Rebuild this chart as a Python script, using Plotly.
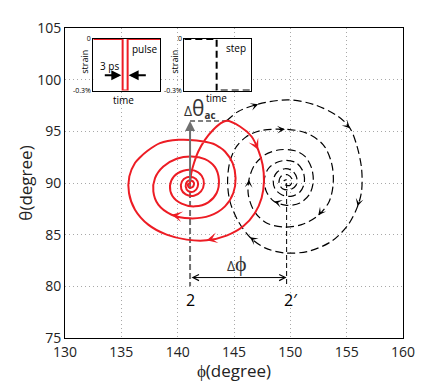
import plotly.graph_objects as go

# red trajectory (3 ps strain pulse): leaves 2, reaches the apex, spirals back into 2
red_phi = [141.09, 141.21, 141.45, 141.83, 142.42, 143.16, 143.75, 144.34,
           145.53, 146.56, 147.15, 147.54, 147.66, 147.45, 146.86, 145.82, 144.34,
           142.57, 140.80, 139.02, 137.39, 136.21, 135.68, 135.71, 136.21, 136.65,
           137.30, 138.43, 140.06, 141.68, 143.16, 143.75,
           144.20, 144.88, 145.14, 144.94, 144.20, 142.87, 141.09, 139.46, 138.28,
           137.84, 137.99, 138.73, 139.91, 141.24, 142.42,
           143.31, 143.66, 143.46, 142.72, 141.53, 140.35, 139.52, 139.32, 139.67,
           140.50, 141.45, 142.13,
           142.33, 142.07, 141.45, 140.71, 140.32, 140.38, 140.80, 141.39, 141.77,
           141.77, 141.45, 140.94, 140.71, 140.83, 141.18, 141.45, 141.33, 141.00,
           140.91, 141.12]
red_theta = [89.93, 90.96, 91.93, 93.05, 94.18, 95.15, 95.73, 96.02,
             95.47, 94.50, 93.21, 91.77, 90.16, 88.55, 87.10, 85.81, 84.91,
             84.45, 84.52, 85.00, 85.97, 87.42, 89.03, 90.64, 91.93, 92.47,
             93.10, 93.86, 94.18, 94.12, 93.80, 93.44,
             93.05, 91.93, 90.48, 89.03, 87.74, 86.84, 86.58, 86.93, 87.90,
             89.19, 90.48, 91.60, 92.35, 92.57, 92.31,
             91.54, 90.32, 89.03, 88.13, 87.74, 88.00, 88.77, 89.74, 90.64,
             91.19, 91.22, 90.70,
             89.93, 89.19, 88.77, 88.90, 89.41, 90.16, 90.54, 90.54, 90.16,
             89.61, 89.19, 89.22, 89.67, 90.12, 90.25, 90.00, 89.61, 89.57,
             89.87, 90.00]
red_arrows = [5, 10, 17, 25, 31, 39, 48]

# black dashed trajectory (step strain): from the apex, spirals into 2'
black_phi = [144.35, 145.38, 147.15, 149.82, 152.18, 154.25, 155.29, 155.88,
             156.32, 156.32, 155.97, 155.14, 153.66, 151.59, 149.52, 147.75,
             146.42, 145.38, 144.64, 144.43, 144.64, 145.23, 146.12, 147.30,
             149.52, 151.44, 152.92, 153.66, 153.81, 153.45, 152.48, 151.00,
             149.37, 147.89, 146.80, 146.27, 146.33, 146.80, 147.75, 149.08,
             150.41, 151.30, 151.89, 152.03, 151.68, 150.85, 149.67, 148.57,
             147.89, 147.69, 148.04, 148.78, 149.67,
             150.56, 151.15, 151.24, 150.85, 150.05, 149.23, 148.63, 148.49,
             148.84, 149.52,
             150.17, 150.56, 150.50, 149.97, 149.31, 148.99, 149.17, 149.76,
             150.17, 149.97, 149.52, 149.43, 149.67]
black_theta = [96.02, 96.92, 97.63, 98.05, 97.56, 96.44, 95.31, 93.70,
               91.44, 89.19, 87.74, 85.97, 84.36, 83.39, 83.23, 83.72,
               84.75, 86.29, 88.22, 90.16, 92.09, 93.54, 94.50, 95.05,
               95.21, 94.83, 93.70, 91.93, 90.00, 88.22, 86.87, 85.97,
               85.74, 86.13, 87.26, 88.87, 90.32, 91.70, 92.73, 93.22,
               93.12, 92.57, 91.44, 90.09, 88.87, 88.06, 87.84, 88.22,
               89.13, 90.32, 91.38, 91.99, 92.19,
               91.93, 91.06, 90.00, 89.13, 88.71, 88.87, 89.45, 90.32,
               91.06, 91.38,
               91.19, 90.54, 89.77, 89.35, 89.45, 90.00, 90.64, 90.80,
               90.32, 89.77, 89.84, 90.19, 90.32]
black_arrows = [2, 6, 10, 16, 24, 30, 36, 41, 47, 54]

point_2 = [141.1, 90.0]
point_2p = [149.67, 90.0]
apex = [144.35, 96.0]
base_theta = 80.0
dphi_theta = 80.85

# insets
pulse_time = [0, 4.4, 4.4, 5.15, 5.15, 10]
pulse_strain = [0, 0, -0.3, -0.3, 0, 0]
step_time = [0, 4.88, 4.88, 10]
step_strain = [0, 0, -0.3, -0.3]

RED = "#ed1c24"
FONT = "Open Sans"


def arrow_marks(xs, ys, idx, color, width, size, xref="x", yref="y"):
    anns = []
    for i in idx:
        tx = xs[i] - 0.3 * (xs[i] - xs[i - 1])
        ty = ys[i] - 0.3 * (ys[i] - ys[i - 1])
        anns.append(dict(x=xs[i], y=ys[i], ax=tx, ay=ty, xref=xref, yref=yref,
                         axref=xref, ayref=yref, text="", showarrow=True,
                         arrowhead=3, arrowsize=size, arrowwidth=width,
                         arrowcolor=color, standoff=0))
    return anns


def label(text, x, y, xref, yref, size, **kw):
    return dict(x=x, y=y, xref=xref, yref=yref, text=text, showarrow=False,
                xanchor=kw.pop("xanchor", "center"), yanchor="middle",
                font=dict(family=FONT, size=size, color=kw.pop("color", "black")), **kw)


fig = go.Figure()

# guide lines
fig.add_trace(go.Scatter(x=[point_2[0], point_2[0]], y=[point_2[1], base_theta],
                         mode="lines", line=dict(color="#707070", width=2, dash="6px,3px"),
                         hoverinfo="skip"))
fig.add_trace(go.Scatter(x=[point_2p[0], point_2p[0]], y=[point_2p[1], base_theta],
                         mode="lines", line=dict(color="black", width=1, dash="5px,3px"),
                         hoverinfo="skip"))
fig.add_trace(go.Scatter(x=[point_2[0], apex[0]], y=[apex[1], apex[1]],
                         mode="lines", line=dict(color="black", width=1, dash="5px,3px"),
                         hoverinfo="skip"))

fig.add_trace(go.Scatter(x=black_phi, y=black_theta, mode="lines",
                         line=dict(color="black", width=1.2, dash="8px,4px",
                                   shape="spline", smoothing=0.9),
                         name="step"))
fig.add_trace(go.Scatter(x=red_phi, y=red_theta, mode="lines",
                         line=dict(color=RED, width=2, shape="spline", smoothing=0.9),
                         name="pulse"))

# inset traces
fig.add_trace(go.Scatter(x=pulse_time, y=pulse_strain, mode="lines", xaxis="x2", yaxis="y2",
                         line=dict(color=RED, width=2), cliponaxis=False))
fig.add_trace(go.Scatter(x=step_time, y=step_strain, mode="lines", xaxis="x3", yaxis="y3",
                         line=dict(color="black", width=2, dash="7px,4px"), cliponaxis=False))

anns = []
anns += arrow_marks(black_phi, black_theta, black_arrows, "black", 1, 1.3)
anns += arrow_marks(red_phi, red_theta, red_arrows, RED, 2, 0.9)

# delta theta arrow and label
anns.append(dict(x=point_2[0], y=apex[1], ax=point_2[0], ay=point_2[1], xref="x", yref="y",
                 axref="x", ayref="y", text="", showarrow=True, arrowhead=2,
                 arrowsize=1, arrowwidth=2, arrowcolor="#707070"))
anns.append(label("<span style='font-size:14px'>Δ</span><span style='font-size:21px'>θ</span>"
                  "<sub><b>ac</b></sub>", 141.95, 97.25, "x", "y", 14, color="#333333"))
# delta phi double arrow and label
anns.append(dict(x=point_2p[0], y=dphi_theta, ax=point_2[0], ay=dphi_theta, xref="x", yref="y",
                 axref="x", ayref="y", text="", showarrow=True, arrowhead=5, startarrowhead=5,
                 arrowside="end+start", arrowsize=1.2, startarrowsize=1.2, arrowwidth=1,
                 arrowcolor="black"))
anns.append(label("<span style='font-size:14px'>Δ</span><span style='font-size:22px'>ϕ</span>",
                  145.3, 82.4, "x", "y", 14, color="#333333"))
anns.append(label("2", point_2[0], 78.7, "x", "y", 16))
anns.append(label("2′", point_2p[0], 78.7, "x", "y", 16, xanchor="left", xshift=-5))

# inset labels
anns.append(label("strain", -0.125, 0.56, "x2 domain", "y2 domain", 9, textangle=-90))
anns.append(label("time", 0.45, -0.18, "x2 domain", "y2 domain", 10))
anns.append(label("pulse", 7.75, -0.06, "x2", "y2", 10))
anns.append(label("3 ps", 2.5, -0.155, "x2", "y2", 10))
anns.append(dict(x=4.2, y=-0.21, ax=1.5, ay=-0.21, xref="x2", yref="y2", axref="x2", ayref="y2",
                 text="", showarrow=True, arrowhead=2, arrowsize=1, arrowwidth=2,
                 arrowcolor="black"))
anns.append(dict(x=5.3, y=-0.21, ax=8.1, ay=-0.21, xref="x2", yref="y2", axref="x2", ayref="y2",
                 text="", showarrow=True, arrowhead=2, arrowsize=1, arrowwidth=2,
                 arrowcolor="black"))
anns.append(label("strain", -0.14, 0.56, "x3 domain", "y3 domain", 9, textangle=-90))
anns.append(label("time", 0.49, -0.14, "x3 domain", "y3 domain", 10))
anns.append(label("step", 7.85, -0.05, "x3", "y3", 10))

main_axis = dict(showline=True, mirror=True, linecolor="black", linewidth=1,
                 showgrid=True, gridcolor="#a8a8a8", griddash="1px,3px", gridwidth=1,
                 zeroline=False, ticks="", tickfont=dict(family=FONT, size=14, color="#222222"))
inset_x = dict(showline=True, mirror=True, linecolor="black", linewidth=1, showgrid=False,
               zeroline=False, showticklabels=False, ticks="", range=[0, 10],
               layer="below traces")
inset_y = dict(showline=True, mirror=True, linecolor="black", linewidth=1, showgrid=False,
               zeroline=False, ticks="", range=[-0.3, 0], tickvals=[0, -0.3],
               ticktext=["0", "-0.3%"], tickfont=dict(family=FONT, size=7, color="black"),
               layer="below traces")

# the page body adds an 8 px margin, so the figure is sized to fit the window
fig.update_layout(
    template="none",
    width=428, height=374,
    margin=dict(l=57, r=33, t=20, b=44),
    plot_bgcolor="white", paper_bgcolor="white",
    showlegend=False,
    font=dict(family=FONT),
    xaxis=dict(main_axis, range=[130, 160], tickvals=list(range(130, 161, 5)),
               ticklabelstandoff=1,
               title=dict(text="ϕ(degree)", font=dict(size=17, color="#222222"), standoff=0)),
    yaxis=dict(main_axis, range=[75, 105], tickvals=list(range(75, 106, 5)),
               title=dict(text="θ(degree)", font=dict(size=17, color="#222222"), standoff=0)),
    xaxis2=dict(inset_x, domain=[0.0837, 0.281], anchor="y2"),
    yaxis2=dict(inset_y, domain=[0.798, 0.9645], anchor="x2"),
    xaxis3=dict(inset_x, domain=[0.353, 0.549], anchor="y3"),
    yaxis3=dict(inset_y, domain=[0.798, 0.9645], anchor="x3"),
    annotations=anns,
)

fig.write_html("out.html")
